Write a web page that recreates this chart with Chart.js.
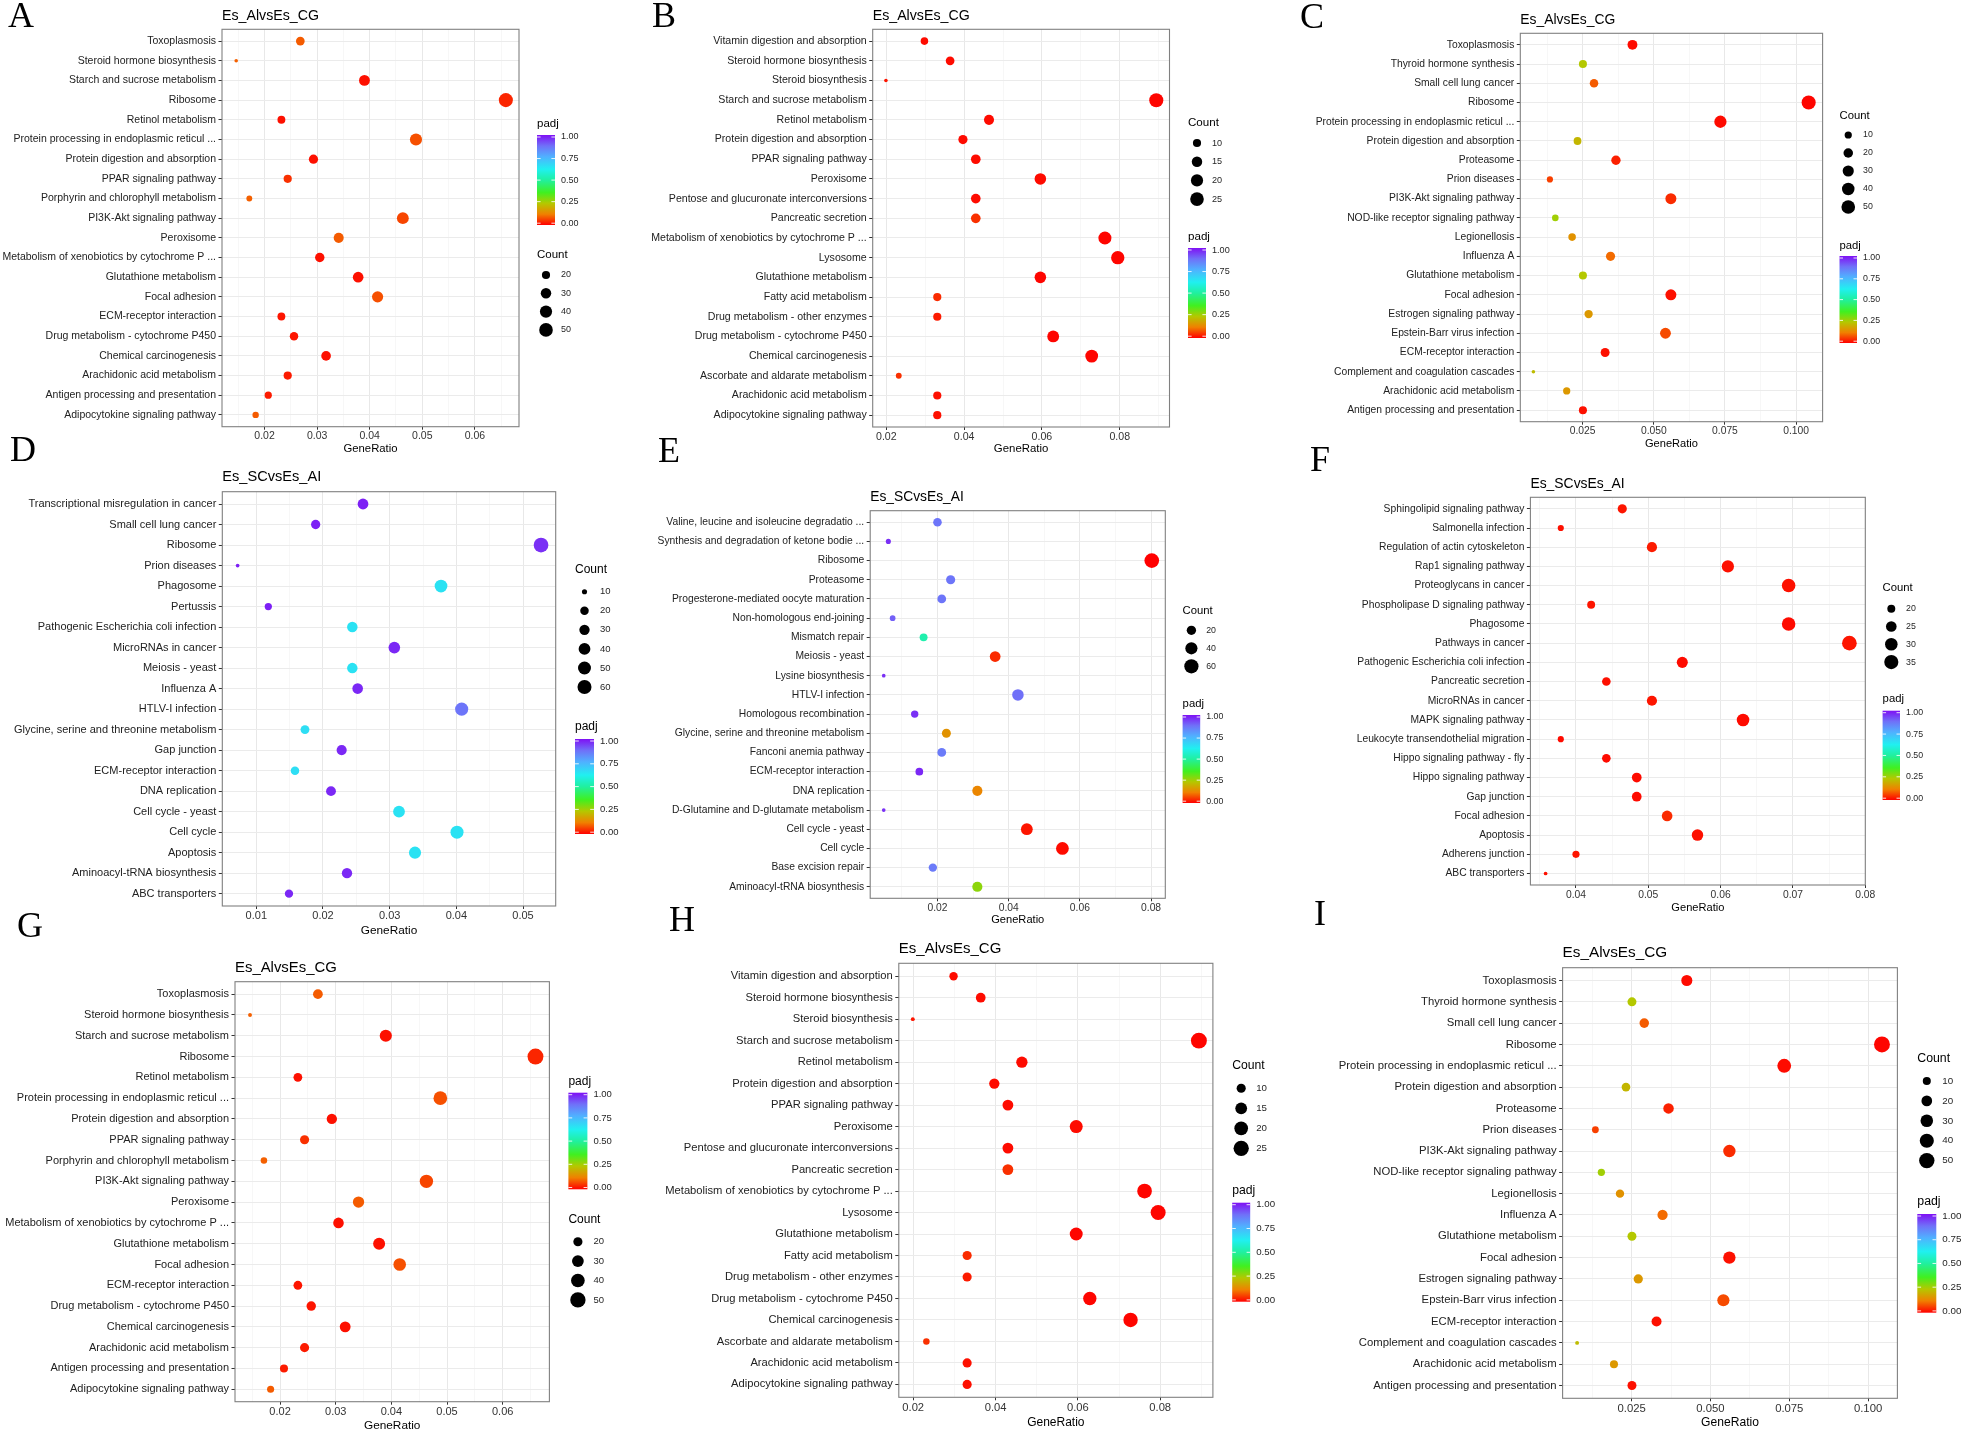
<!DOCTYPE html>
<html>
<head>
<meta charset="utf-8">
<title>KEGG enrichment scatter plots A-I</title>
<script src="https://cdn.jsdelivr.net/npm/chart.js@4.4.1/dist/chart.umd.min.js"></script>
<style>
  html, body { margin: 0; padding: 0; background: #fff; }
  #page { position: relative; width: 1963px; height: 1432px; overflow: hidden; }
  #page canvas { position: absolute; left: 0; top: 0; }
</style>
</head>
<body>
<div id="page"></div>
<script>
// Es_AlvsEs_CG (panels A and G)
const aTerms = ["Toxoplasmosis", "Steroid hormone biosynthesis", "Starch and sucrose metabolism", "Ribosome",
  "Retinol metabolism", "Protein processing in endoplasmic reticul ...", "Protein digestion and absorption",
  "PPAR signaling pathway", "Porphyrin and chlorophyll metabolism", "PI3K-Akt signaling pathway", "Peroxisome",
  "Metabolism of xenobiotics by cytochrome P ...", "Glutathione metabolism", "Focal adhesion",
  "ECM-receptor interaction", "Drug metabolism - cytochrome P450", "Chemical carcinogenesis",
  "Arachidonic acid metabolism", "Antigen processing and presentation", "Adipocytokine signaling pathway"];
const aRatio = [0.0268, 0.0146, 0.0390, 0.0659, 0.0232, 0.0488, 0.0293, 0.0244, 0.0171, 0.0463,
  0.0341, 0.0305, 0.0378, 0.0415, 0.0232, 0.0256, 0.0317, 0.0244, 0.0207, 0.0183];
const aCount = [22, 12, 32, 54, 19, 40, 24, 20, 14, 38, 28, 25, 31, 34, 19, 21, 26, 20, 17, 15];
const aPadj = [0.085, 0.09, 0.015, 0.035, 0.015, 0.075, 0.015, 0.045, 0.09, 0.065,
  0.085, 0.015, 0.015, 0.075, 0.02, 0.02, 0.015, 0.025, 0.025, 0.085];
const aBreaks = [20, 30, 40, 50];
const aTickLabels = ["0.02", "0.03", "0.04", "0.05", "0.06"];

// Es_AlvsEs_CG (panels B and H)
const bTerms = ["Vitamin digestion and absorption", "Steroid hormone biosynthesis", "Steroid biosynthesis",
  "Starch and sucrose metabolism", "Retinol metabolism", "Protein digestion and absorption",
  "PPAR signaling pathway", "Peroxisome", "Pentose and glucuronate interconversions", "Pancreatic secretion",
  "Metabolism of xenobiotics by cytochrome P ...", "Lysosome", "Glutathione metabolism", "Fatty acid metabolism",
  "Drug metabolism - other enzymes", "Drug metabolism - cytochrome P450", "Chemical carcinogenesis",
  "Ascorbate and aldarate metabolism", "Arachidonic acid metabolism", "Adipocytokine signaling pathway"];
const bRatio = [0.0298, 0.0364, 0.0199, 0.0894, 0.0464, 0.0397, 0.0430, 0.0596, 0.0430, 0.0430,
  0.0762, 0.0795, 0.0596, 0.0331, 0.0331, 0.0629, 0.0728, 0.0232, 0.0331, 0.0331];
const bCount = [9, 11, 6, 27, 14, 12, 13, 18, 13, 13, 23, 24, 18, 10, 10, 19, 22, 7, 10, 10];
const bPadj = [0.01, 0.01, 0.02, 0.005, 0.01, 0.01, 0.01, 0.01, 0.01, 0.045,
  0.005, 0.005, 0.005, 0.04, 0.025, 0.005, 0.005, 0.045, 0.015, 0.015];
const bBreaks = [10, 15, 20, 25];
const bTickLabels = ["0.02", "0.04", "0.06", "0.08"];

// Es_AlvsEs_CG (panels C and I)
const cTerms = ["Toxoplasmosis", "Thyroid hormone synthesis", "Small cell lung cancer", "Ribosome",
  "Protein processing in endoplasmic reticul ...", "Protein digestion and absorption", "Proteasome",
  "Prion diseases", "PI3K-Akt signaling pathway", "NOD-like receptor signaling pathway", "Legionellosis",
  "Influenza A", "Glutathione metabolism", "Focal adhesion", "Estrogen signaling pathway",
  "Epstein-Barr virus infection", "ECM-receptor interaction", "Complement and coagulation cascades",
  "Arachidonic acid metabolism", "Antigen processing and presentation"];
const cRatio = [0.0425, 0.0251, 0.0290, 0.1044, 0.0734, 0.0232, 0.0367, 0.0135, 0.0560, 0.0154,
  0.0213, 0.0348, 0.0251, 0.0560, 0.0271, 0.0541, 0.0329, 0.0077, 0.0194, 0.0251];
const cCount = [22, 13, 15, 54, 38, 12, 19, 7, 29, 8, 11, 18, 13, 29, 14, 28, 17, 4, 10, 13];
const cPadj = [0.01, 0.24, 0.085, 0.005, 0.01, 0.21, 0.03, 0.06, 0.04, 0.26,
  0.15, 0.1, 0.24, 0.015, 0.16, 0.07, 0.015, 0.22, 0.16, 0.015];
const cBreaks = [10, 20, 30, 40, 50];
const cTickLabels = ["0.025", "0.050", "0.075", "0.100"];

// Es_SCvsEs_AI (panel D)
const dTerms = ["Transcriptional misregulation in cancer", "Small cell lung cancer", "Ribosome", "Prion diseases",
  "Phagosome", "Pertussis", "Pathogenic Escherichia coli infection", "MicroRNAs in cancer", "Meiosis - yeast",
  "Influenza A", "HTLV-I infection", "Glycine, serine and threonine metabolism", "Gap junction",
  "ECM-receptor interaction", "DNA replication", "Cell cycle - yeast", "Cell cycle", "Apoptosis",
  "Aminoacyl-tRNA biosynthesis", "ABC transporters"];
const dRatio = [0.0260, 0.0189, 0.0527, 0.0072, 0.0377, 0.0118, 0.0244, 0.0307, 0.0244, 0.0252,
  0.0408, 0.0173, 0.0228, 0.0158, 0.0212, 0.0314, 0.0401, 0.0338, 0.0236, 0.0149];
const dCount = [33, 24, 67, 9, 48, 15, 31, 39, 31, 32, 52, 22, 29, 20, 27, 40, 51, 43, 30, 19];
const dPadj = [0.98, 0.98, 0.96, 0.98, 0.65, 0.98, 0.65, 0.97, 0.65, 0.97,
  0.87, 0.66, 0.97, 0.66, 0.97, 0.65, 0.65, 0.65, 0.97, 0.97];
const dBreaks = [10, 20, 30, 40, 50, 60];
const dTickLabels = ["0.01", "0.02", "0.03", "0.04", "0.05"];

// Es_SCvsEs_AI (panel E)
const eTerms = ["Valine, leucine and isoleucine degradatio ...", "Synthesis and degradation of ketone bodie ...",
  "Ribosome", "Proteasome", "Progesterone-mediated oocyte maturation", "Non-homologous end-joining",
  "Mismatch repair", "Meiosis - yeast", "Lysine biosynthesis", "HTLV-I infection", "Homologous recombination",
  "Glycine, serine and threonine metabolism", "Fanconi anemia pathway", "ECM-receptor interaction",
  "DNA replication", "D-Glutamine and D-glutamate metabolism", "Cell cycle - yeast", "Cell cycle",
  "Base excision repair", "Aminoacyl-tRNA biosynthesis"];
const eRatio = [0.0200, 0.0062, 0.0802, 0.0237, 0.0212, 0.0074, 0.0161, 0.0362, 0.0049, 0.0426,
  0.0136, 0.0225, 0.0212, 0.0149, 0.0312, 0.0049, 0.0451, 0.0551, 0.0187, 0.0312];
const eCount = [16, 5, 65, 19, 17, 6, 13, 29, 4, 35, 11, 18, 17, 12, 25, 4, 37, 45, 15, 25];
const ePadj = [0.87, 0.96, 0.0, 0.87, 0.87, 0.9, 0.52, 0.04, 0.96, 0.88,
  0.96, 0.15, 0.86, 0.97, 0.13, 0.96, 0.02, 0.01, 0.86, 0.28];
const eBreaks = [20, 40, 60];
const eTickLabels = ["0.02", "0.04", "0.06", "0.08"];

// Es_SCvsEs_AI (panel F)
const fTerms = ["Sphingolipid signaling pathway", "Salmonella infection", "Regulation of actin cytoskeleton",
  "Rap1 signaling pathway", "Proteoglycans in cancer", "Phospholipase D signaling pathway", "Phagosome",
  "Pathways in cancer", "Pathogenic Escherichia coli infection", "Pancreatic secretion", "MicroRNAs in cancer",
  "MAPK signaling pathway", "Leukocyte transendothelial migration", "Hippo signaling pathway - fly",
  "Hippo signaling pathway", "Gap junction", "Focal adhesion", "Apoptosis", "Adherens junction",
  "ABC transporters"];
const fRatio = [0.0464, 0.0379, 0.0505, 0.0610, 0.0694, 0.0421, 0.0694, 0.0778, 0.0547, 0.0442,
  0.0505, 0.0631, 0.0379, 0.0442, 0.0484, 0.0484, 0.0526, 0.0568, 0.0400, 0.0358];
const fCount = [22, 18, 24, 29, 33, 20, 33, 37, 26, 21, 24, 30, 18, 21, 23, 23, 25, 27, 19, 17];
const fPadj = [0.02, 0.015, 0.025, 0.015, 0.015, 0.02, 0.01, 0.02, 0.01, 0.015,
  0.02, 0.01, 0.01, 0.01, 0.01, 0.01, 0.04, 0.015, 0.02, 0.015];
const fBreaks = [20, 25, 30, 35];
const fTickLabels = ["0.04", "0.05", "0.06", "0.07", "0.08"];

const sets = {
  a: { terms: aTerms, ratio: aRatio, count: aCount, padj: aPadj, breaks: aBreaks, ticks: aTickLabels },
  b: { terms: bTerms, ratio: bRatio, count: bCount, padj: bPadj, breaks: bBreaks, ticks: bTickLabels },
  c: { terms: cTerms, ratio: cRatio, count: cCount, padj: cPadj, breaks: cBreaks, ticks: cTickLabels },
  d: { terms: dTerms, ratio: dRatio, count: dCount, padj: dPadj, breaks: dBreaks, ticks: dTickLabels },
  e: { terms: eTerms, ratio: eRatio, count: eCount, padj: ePadj, breaks: eBreaks, ticks: eTickLabels },
  f: { terms: fTerms, ratio: fRatio, count: fCount, padj: fPadj, breaks: fBreaks, ticks: fTickLabels }
};

// layout of the nine panels on the page (plot box = left, top, right, bottom)
const panels = [
  { letter: 'A', lx: 8, ly: 3, set: 'a', title: 'Es_AlvsEs_CG', ty: 16, box: [222, 29.3, 519, 426.7],
    xr: [0.0119, 0.0684], font: 10.5, tfont: 14.2, dot: 2.1, xtGap: 22,
    key: { x: 537, w: 18, padj: [124, 135, 225], count: [255, 275, 18.3] } },
  { letter: 'B', lx: 652, ly: 3, set: 'b', title: 'Es_AlvsEs_CG', ty: 16, box: [872.7, 29.3, 1169.5, 427],
    xr: [0.0165, 0.0928], font: 10.6, tfont: 14.2, dot: 2.1, xtGap: 22,
    key: { x: 1188, w: 18, padj: [237, 248, 338], count: [123, 143, 18.7] } },
  { letter: 'C', lx: 1300, ly: 4, set: 'c', title: 'Es_AlvsEs_CG', ty: 20, box: [1520.3, 33.3, 1822.6, 421.7],
    xr: [0.0031, 0.1093], font: 10.3, tfont: 13.9, dot: 2.1, xtGap: 22.5,
    key: { x: 1839.5, w: 17.5, padj: [246, 256, 343], count: [116, 135, 18] } },
  { letter: 'D', lx: 10, ly: 437, set: 'd', title: 'Es_SCvsEs_AI', ty: 477, box: [222.3, 491.7, 555.7, 906],
    xr: [0.0049, 0.0549], font: 11, tfont: 14.6, dot: 2.2, xtGap: 24.5,
    key: { x: 575, w: 19, padj: [727, 739, 834], count: [570, 591.7, 19.07] } },
  { letter: 'E', lx: 658, ly: 438, set: 'e', title: 'Es_SCvsEs_AI', ty: 496.7, box: [870.2, 510.7, 1165.3, 898.3],
    xr: [0.0011, 0.0840], font: 10.3, tfont: 13.8, dot: 2.2, xtGap: 22,
    key: { x: 1182.6, w: 17.6, padj: [704, 715, 803], count: [610.7, 630.3, 18] } },
  { letter: 'F', lx: 1310, ly: 447, set: 'f', title: 'Es_SCvsEs_AI', ty: 484, box: [1530.4, 497.3, 1865.3, 885],
    xr: [0.0337, 0.0800], font: 10.3, tfont: 13.9, dot: 2.2, xtGap: 23.3,
    key: { x: 1882.6, w: 17.4, padj: [699.3, 710.7, 800], count: [588.3, 608.7, 17.8] } },
  { letter: 'G', lx: 17, ly: 913, set: 'a', title: 'Es_AlvsEs_CG', ty: 968.3, box: [235, 981.7, 549.4, 1401.7],
    xr: [0.0119, 0.0684], font: 11, tfont: 14.9, dot: 2.4, xtGap: 24.3,
    key: { x: 568.4, w: 19, padj: [1081.7, 1092.7, 1189.3], count: [1220, 1241.7, 19.4] } },
  { letter: 'H', lx: 669, ly: 907, set: 'b', title: 'Es_AlvsEs_CG', ty: 949.3, box: [898.8, 963.3, 1212.9, 1397.3],
    xr: [0.0165, 0.0928], font: 11.2, tfont: 15, dot: 2.4, xtGap: 25,
    key: { x: 1232.2, w: 18, padj: [1190.7, 1202.7, 1301.7], count: [1066, 1088.3, 20] } },
  { letter: 'I', lx: 1314, ly: 901, set: 'c', title: 'Es_AlvsEs_CG', ty: 952.7, box: [1562.6, 967.7, 1897.4, 1398.3],
    xr: [0.0031, 0.1093], font: 11.3, tfont: 15.3, dot: 2.4, xtGap: 24.5,
    key: { x: 1917.3, w: 19, padj: [1202, 1214, 1312.7], count: [1059, 1081, 19.9] } }
];

const PAGE_W = 1963, PAGE_H = 1432;
const SANS = '"Liberation Sans", Arial, Helvetica, sans-serif';
const SERIF = '"Liberation Serif", "Times New Roman", serif';

// padj colour ramp, red (0) to violet (1)
const ramp = [[0, '#ff0000'], [0.12, '#f08000'], [0.24, '#b4c800'], [0.36, '#40f020'], [0.5, '#20f0a0'],
  [0.62, '#20f0f0'], [0.76, '#50b0ff'], [0.88, '#7070f8'], [1, '#7f10f4']];

function hexRgb(h) {
  return [parseInt(h.slice(1, 3), 16), parseInt(h.slice(3, 5), 16), parseInt(h.slice(5, 7), 16)];
}

function padjColor(p) {
  for (let i = 1; i < ramp.length; i++) {
    if (p <= ramp[i][0]) {
      const t = (p - ramp[i - 1][0]) / (ramp[i][0] - ramp[i - 1][0]);
      const c0 = hexRgb(ramp[i - 1][1]), c1 = hexRgb(ramp[i][1]);
      const c = c0.map((v, k) => Math.round(v + (c1[k] - v) * t));
      return 'rgb(' + c.join(',') + ')';
    }
  }
  return ramp[ramp.length - 1][1];
}

// ggplot-like area scale: size 1..6 between smallest and largest count
function sizer(counts, k) {
  const lo = Math.min(...counts), hi = Math.max(...counts);
  return (c) => {
    const f = Math.max(0, Math.min(1, (c - lo) / (hi - lo)));
    return (k * (1 + 5 * Math.sqrt(f)) + 1.5) / 2;
  };
}

function drawColorbar(ctx, p) {
  const k = p.key;
  const [ty, top, bot] = k.padj;
  ctx.fillStyle = '#000';
  ctx.font = (p.font + 1) + 'px ' + SANS;
  ctx.textAlign = 'left';
  ctx.textBaseline = 'middle';
  ctx.fillText('padj', k.x, ty);
  const g = ctx.createLinearGradient(0, bot, 0, top);
  ramp.forEach(s => g.addColorStop(s[0], s[1]));
  ctx.fillStyle = g;
  ctx.fillRect(k.x, top, k.w, bot - top);
  ctx.font = (p.font - 1.5) + 'px ' + SANS;
  [0, 0.25, 0.5, 0.75, 1].forEach(v => {
    const yy = bot - 1.8 - v * (bot - top - 3.8);
    ctx.strokeStyle = 'rgba(255,255,255,0.85)';
    ctx.lineWidth = 1;
    ctx.beginPath();
    ctx.moveTo(k.x, yy); ctx.lineTo(k.x + k.w * 0.2, yy);
    ctx.moveTo(k.x + k.w * 0.8, yy); ctx.lineTo(k.x + k.w, yy);
    ctx.stroke();
    ctx.fillStyle = '#262626';
    ctx.fillText(v.toFixed(2), k.x + k.w + 6, yy);
  });
}

function drawCountKey(ctx, p, s, rad) {
  const k = p.key;
  const [ty, y0, dy] = k.count;
  ctx.fillStyle = '#000';
  ctx.font = (p.font + 1) + 'px ' + SANS;
  ctx.textAlign = 'left';
  ctx.textBaseline = 'middle';
  ctx.fillText('Count', k.x, ty);
  ctx.font = (p.font - 1.5) + 'px ' + SANS;
  s.breaks.forEach((b, i) => {
    const yy = y0 + i * dy;
    ctx.fillStyle = '#000';
    ctx.beginPath();
    ctx.arc(k.x + k.w / 2, yy, rad(b), 0, Math.PI * 2);
    ctx.fill();
    ctx.fillStyle = '#262626';
    ctx.fillText(String(b), k.x + k.w + 6, yy);
  });
}

function decor(p, s, rad) {
  return {
    id: 'decor' + p.letter,
    afterDatasetsDraw(chart) {
      const a = chart.chartArea, ctx = chart.ctx;
      ctx.save();
      ctx.strokeStyle = '#808080';
      ctx.lineWidth = 1.1;
      ctx.strokeRect(a.left, a.top, a.right - a.left, a.bottom - a.top);
      ctx.restore();
    },
    afterDraw(chart) {
      const a = chart.chartArea, ctx = chart.ctx;
      ctx.save();
      ctx.fillStyle = '#000';
      ctx.textAlign = 'left';
      ctx.textBaseline = 'alphabetic';
      ctx.font = '36px ' + SERIF;
      ctx.fillText(p.letter, p.lx, p.ly + 24);
      ctx.font = p.tfont + 'px ' + SANS;
      ctx.textBaseline = 'middle';
      ctx.fillText(p.title, a.left, p.ty);
      ctx.font = (p.font + 0.8) + 'px ' + SANS;
      ctx.textAlign = 'center';
      ctx.fillText('GeneRatio', (a.left + a.right) / 2, a.bottom + p.xtGap);
      drawColorbar(ctx, p);
      drawCountKey(ctx, p, s, rad);
      ctx.restore();
    }
  };
}

const page = document.getElementById('page');

panels.forEach(p => {
  const s = sets[p.set];
  const rad = sizer(s.count, p.dot);
  const majors = s.ticks.map(Number);
  const half = (majors[1] - majors[0]) / 2;
  const [L, T, R, B] = p.box;
  const xH = 20;

  const cv = document.createElement('canvas');
  cv.width = PAGE_W; cv.height = PAGE_H;
  cv.style.width = PAGE_W + 'px'; cv.style.height = PAGE_H + 'px';
  page.appendChild(cv);

  new Chart(cv.getContext('2d'), {
    type: 'bubble',
    data: {
      datasets: [{
        data: s.terms.map((t, i) => ({ x: s.ratio[i], y: i, r: rad(s.count[i]) })),
        backgroundColor: s.padj.map(padjColor),
        borderWidth: 0,
        hoverRadius: 0
      }]
    },
    options: {
      responsive: false,
      animation: false,
      devicePixelRatio: 1,
      events: [],
      // y axis box spans from the page edge to the plot so its labels are not clipped
      layout: { padding: { left: 0, top: T, right: PAGE_W - R, bottom: PAGE_H - B - xH } },
      plugins: { legend: { display: false }, tooltip: { enabled: false }, title: { display: false } },
      scales: {
        x: {
          type: 'linear',
          min: p.xr[0],
          max: p.xr[1],
          afterFit: (sc) => { sc.height = xH; },
          afterBuildTicks: (sc) => {
            const out = [];
            for (let i = -1; i < 40; i++) {
              const v = majors[0] + i * half;
              if (v > p.xr[1] + 1e-9) break;
              if (v >= p.xr[0] - 1e-9) out.push({ value: v, minor: i % 2 !== 0 });
            }
            sc.ticks = out;
          },
          border: { display: false },
          grid: {
            color: (c) => (c.tick && c.tick.minor) ? '#f3f3f3' : '#e8e8e8',
            lineWidth: (c) => (c.tick && c.tick.minor) ? 0.7 : 1,
            tickColor: (c) => (c.tick && c.tick.minor) ? 'rgba(0,0,0,0)' : '#333',
            tickWidth: 1,
            tickLength: 3
          },
          ticks: {
            autoSkip: false,
            maxRotation: 0,
            padding: 0.5,
            color: '#333',
            font: { family: SANS, size: p.font },
            callback: (v, i, ticks) => {
              if (ticks[i].minor) return '';
              const j = majors.findIndex(m => Math.abs(m - v) < 1e-9);
              return j >= 0 ? s.ticks[j] : '';
            }
          }
        },
        y: {
          type: 'linear',
          reverse: true,
          min: -0.6,
          max: s.terms.length - 0.4,
          afterFit: (sc) => { sc.width = L; },
          afterBuildTicks: (sc) => { sc.ticks = s.terms.map((t, i) => ({ value: i })); },
          border: { display: false },
          grid: { color: '#ebebeb', lineWidth: 1, tickColor: '#333', tickWidth: 1, tickLength: 3.5 },
          ticks: {
            autoSkip: false,
            padding: 2.5,
            color: '#222',
            font: { family: SANS, size: p.font },
            callback: (v) => s.terms[Math.round(v)]
          }
        }
      }
    },
    plugins: [decor(p, s, rad)]
  });
});
</script>
</body>
</html>
